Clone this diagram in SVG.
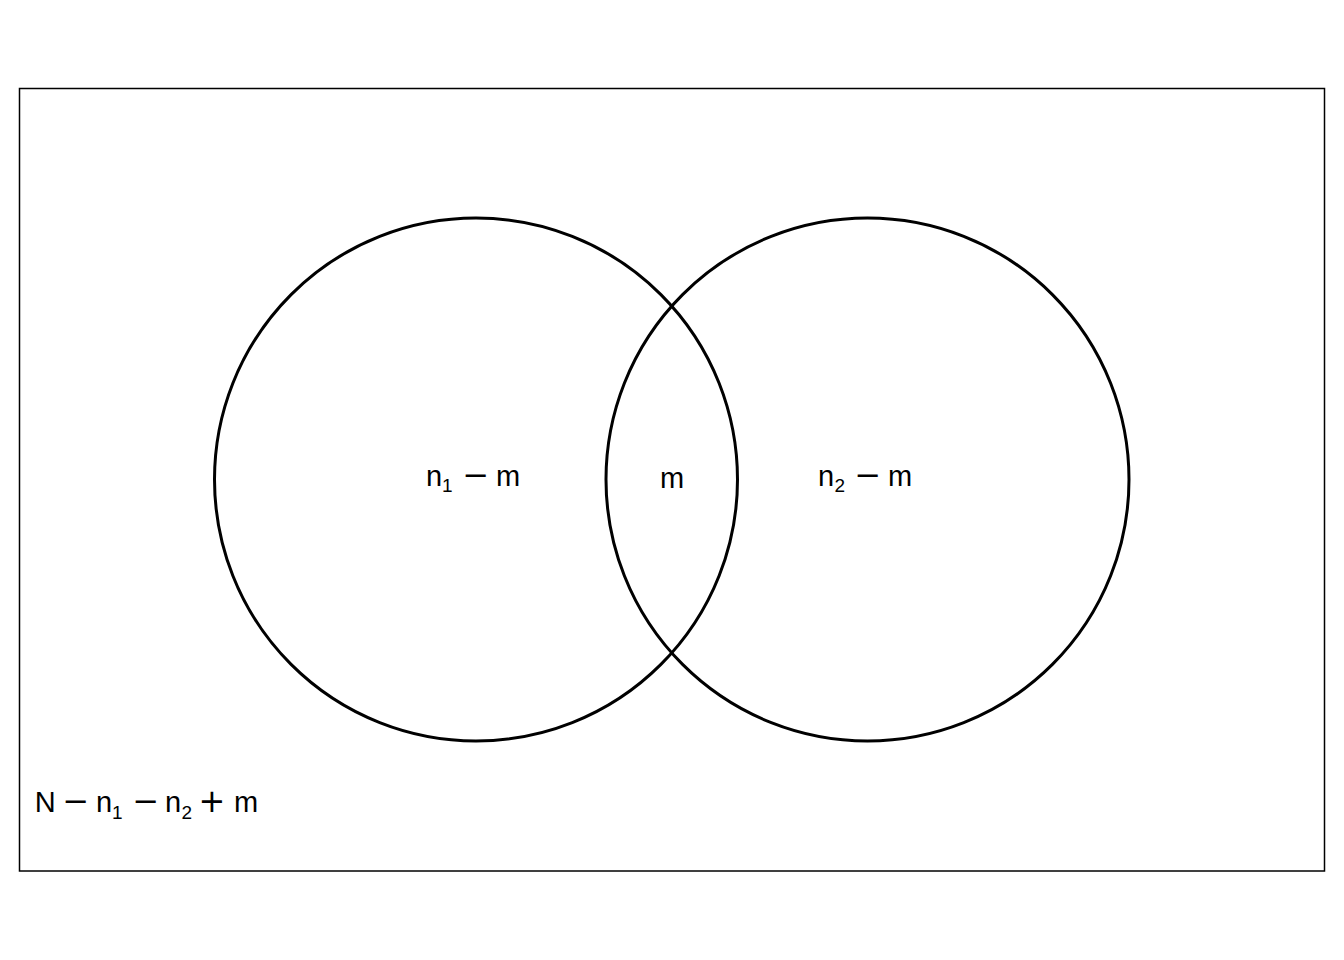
<svg xmlns="http://www.w3.org/2000/svg" width="1344" height="960" viewBox="0 0 1344 960">
<style>
.lbl{font-family:"Liberation Sans",Arial,sans-serif;font-size:29px;fill:#000}
.sub{font-size:19px}
.op{font-family:"DejaVu Sans","Liberation Sans",sans-serif;font-size:32px}
.c{fill:none;stroke:#000;stroke-width:3}
</style>
<rect width="1344" height="960" fill="#fff"/>
<rect id="frame" x="19.5" y="88.5" width="1305" height="782.5" fill="none" stroke="#000" stroke-width="1.5"/>
<g id="set1"><circle class="c" cx="476" cy="479.5" r="261.5"/></g>
<g id="set2"><circle class="c" cx="867.5" cy="479.5" r="261.5"/></g>
<g id="labels">
<text class="lbl" y="486"><tspan x="426.1">n</tspan><tspan class="sub" x="441.9" y="492">1</tspan><tspan class="op" x="462.6" y="486">−</tspan><tspan x="496.1">m</tspan></text>
<text class="lbl" x="672" y="488" text-anchor="middle">m</text>
<text class="lbl" y="486"><tspan x="818.1">n</tspan><tspan class="sub" x="834.4" y="492">2</tspan><tspan class="op" x="854.6" y="486">−</tspan><tspan x="888.1">m</tspan></text>
<text class="lbl" y="812"><tspan x="34.8">N</tspan><tspan class="op" x="62.6">−</tspan><tspan x="96.1">n</tspan><tspan class="sub" x="112" y="819">1</tspan><tspan class="op" x="132.6" y="812">−</tspan><tspan x="165.1">n</tspan><tspan class="sub" x="181.4" y="819">2</tspan><tspan class="op" x="198.6" y="812">+</tspan><tspan x="234">m</tspan></text>
</g>
</svg>
